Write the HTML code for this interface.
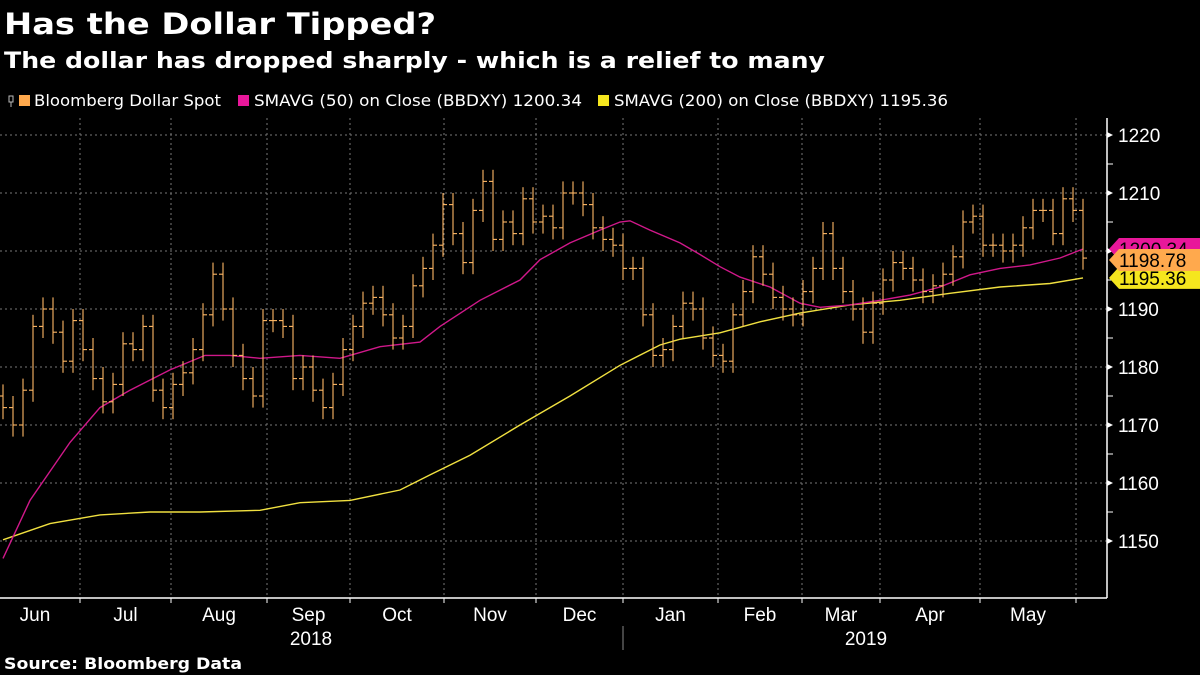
<!DOCTYPE html>
<html><head><meta charset="utf-8"><style>
html,body{margin:0;padding:0;background:#000;}
svg{display:block;font-family:"DejaVu Sans","Liberation Sans",sans-serif;}
</style></head><body>
<svg id="chart" width="1200" height="675" viewBox="0 0 1200 675" xmlns="http://www.w3.org/2000/svg">
<rect width="1200" height="675" fill="#000"/>
<text x="4" y="34" fill="#fff" font-weight="bold" font-size="29" textLength="432" lengthAdjust="spacingAndGlyphs">Has the Dollar Tipped?</text>
<text x="4" y="68" fill="#fff" font-weight="bold" font-size="22" textLength="821" lengthAdjust="spacingAndGlyphs">The dollar has dropped sharply - which is a relief to many</text>
<g font-size="16" fill="#fff">
  <g>
    <path d="M9 96v6h4v-6zM11 102v5" stroke="#bbb" fill="none" stroke-width="1"/>
    <rect x="19" y="95" width="11" height="11" fill="#ffa94d"/>
    <text x="34" y="106" textLength="187" lengthAdjust="spacingAndGlyphs">Bloomberg Dollar Spot</text>
  </g>
  <g>
    <rect x="238" y="95" width="11" height="11" fill="#e8179a"/>
    <text x="254" y="106" textLength="328" lengthAdjust="spacingAndGlyphs">SMAVG (50)  on Close (BBDXY) 1200.34</text>
  </g>
  <g>
    <rect x="598" y="95" width="11" height="11" fill="#f5e61e"/>
    <text x="614" y="106" textLength="334" lengthAdjust="spacingAndGlyphs">SMAVG (200)  on Close (BBDXY) 1195.36</text>
  </g>
</g>
<g id="grid"></g>
<g id="sma200"></g>
<g id="sma50"></g>
<g id="bars"></g>
<g id="yaxis"></g>
<g id="xaxis"></g>
<g id="tags"></g>
<text x="4" y="669" fill="#fff" font-weight="bold" font-size="16" textLength="238" lengthAdjust="spacingAndGlyphs">Source: Bloomberg Data</text>
</svg>
<script>
const closes = [1173,1170,1176,1187,1190,1186,1181,1188,1183,1178,1174,1177,1184,1183,1187,1176,1173,1177,1179,1183,1189,1196,1190,1182,1178,1175,1188,1188,1187,1178,1180,1176,1173,1177,1183,1187,1191,1192,1189,1185,1187,1194,1197,1201,1208,1203,1198,1207,1212,1202,1205,1203,1209,1205,1206,1204,1210,1210,1208,1204,1202,1201,1197,1197,1189,1182,1183,1187,1191,1190,1185,1182,1181,1189,1193,1199,1196,1192,1190,1189,1193,1197,1203,1197,1193,1190,1186,1191,1195,1198,1197,1195,1193,1194,1196,1199,1205,1206,1201,1201,1200,1201,1204,1207,1207,1203,1209,1207,1198.78];
const sma50Idx = [0,2.7,6.7,9.7,12.7,16.7,20.2,22.7,25.7,29.7,33.7,37.7,41.7,43.7,47.7,51.7,53.7,56.7,59.7,61.7,62.7,64.7,67.7,69.7,71.7,73.7,76.7,79.7,81.7,84.7,87.7,90.7,93.7,96.7,99.7,102.7,105.7,108];
const sma50Vals = [1147,1157,1167,1173,1176,1179.5,1182,1182,1181.5,1182,1181.5,1183.5,1184.3,1187,1191.5,1195,1198.5,1201.4,1203.6,1205,1205.2,1203.6,1201.4,1199.4,1197.3,1195.5,1193.8,1191,1190.3,1190.7,1191.5,1192.4,1193.8,1195.9,1197,1197.6,1198.8,1200.34];
const sma200Idx = [0,4.7,9.7,14.7,19.7,25.7,29.7,34.7,39.7,42.7,46.7,51.7,56.7,61.7,65.7,67.7,71.7,75.7,79.7,84.7,89.7,94.7,99.7,104.7,108];
const sma200Vals = [1150.2,1153,1154.5,1155,1155,1155.3,1156.6,1157,1158.8,1161.4,1164.8,1170,1175,1180.3,1183.8,1184.8,1185.9,1187.8,1189.3,1190.7,1191.5,1192.7,1193.8,1194.4,1195.36];
const yTicks = [1150,1160,1170,1180,1190,1200,1210,1220];
const monthLabels = ["Jun","Jul","Aug","Sep","Oct","Nov","Dec","Jan","Feb","Mar","Apr","May"];
const monthStartIdx = [-1.1,7.7,16.8,26.4,34.7,44.1,53.3,62,71.5,79.9,87.7,97.7,107.3];
const yearLabels = ["2018","2019"];
const lastValues = [1200.34,1198.78,1195.36];

const NS="http://www.w3.org/2000/svg";
const X0=3, DX=10, PL=0, PR=1107, PT=118, PB=598;
const xs=i=>X0+DX*i;
const ys=v=>193+(1210-v)*5.8;
function mk(tag,attrs,parent){const e=document.createElementNS(NS,tag);for(const k in attrs)e.setAttribute(k,attrs[k]);parent.appendChild(e);return e;}

const grid=document.getElementById('grid');
yTicks.forEach(v=>{
  const l=mk('line',{x1:PL,x2:PR,y1:ys(v),y2:ys(v),stroke:'#777','stroke-width':1,'stroke-dasharray':'2,3'},grid);
  
  
});
monthStartIdx.slice(1).forEach(m=>{
  const l=mk('line',{x1:xs(m),x2:xs(m),y1:PT,y2:PB,stroke:'#777','stroke-width':1,'stroke-dasharray':'2,3'},grid);
  
  
});

function drawLine(idx,vals,color,gid,name){
  const g=document.getElementById(gid);
  const d=idx.map((k,j)=>(j?'L':'M')+xs(k).toFixed(1)+' '+ys(vals[j]).toFixed(1)).join(' ');
  const p=mk('path',{d:d,fill:'none',stroke:color,'stroke-width':1.4},g);
  
  
}
drawLine(sma200Idx,sma200Vals,'#f0e040','sma200','sma200-line');
drawLine(sma50Idx,sma50Vals,'#d0188a','sma50','sma50-line');

const bars=document.getElementById('bars');
closes.forEach((c,i)=>{
  const o=i?closes[i-1]:c+2;
  const hi=Math.max(o,c)+2, lo=Math.min(o,c)-2;
  const x=xs(i);
  const g=mk('g',{},bars);
  
  
  mk('line',{x1:x,x2:x,y1:ys(hi),y2:ys(lo),stroke:'#ffb866','stroke-width':1.1},g);
  mk('line',{x1:x-4,x2:x,y1:ys(o),y2:ys(o),stroke:'#ffb866','stroke-width':1.1},g);
  mk('line',{x1:x,x2:x+4,y1:ys(c),y2:ys(c),stroke:'#ffb866','stroke-width':1.1},g);
});

const ya=document.getElementById('yaxis');
mk('line',{x1:PR,x2:PR,y1:PT,y2:PB,stroke:'#fff','stroke-width':1.5},ya);
yTicks.forEach(v=>{
  mk('path',{d:`M${PR} ${ys(v)-3}L${PR+6} ${ys(v)}L${PR} ${ys(v)+3}Z`,fill:'#fff'},ya);
  if(ys(v+5)>PT) mk('line',{x1:PR,x2:PR+6,y1:ys(v+5),y2:ys(v+5),stroke:'#fff','stroke-width':1},ya);
  const t=mk('text',{x:PR+11,y:ys(v)+7,fill:'#fff','font-size':19,'font-family':'Liberation Sans, sans-serif'},ya);
  t.textContent=v;
  
  
});

const xa=document.getElementById('xaxis');
mk('line',{x1:PL,x2:PR,y1:PB,y2:PB,stroke:'#fff','stroke-width':1.5},xa);
monthStartIdx.slice(1).forEach(m=>{mk('line',{x1:xs(m),x2:xs(m),y1:PB,y2:PB+5,stroke:'#fff','stroke-width':1},xa);});
monthLabels.forEach((lab,j)=>{
  const cx=(Math.max(xs(monthStartIdx[j]),0)+xs(monthStartIdx[j+1]))/2;
  const t=mk('text',{x:j===0?35:cx,y:621,fill:'#fff','font-size':19,'text-anchor':'middle','font-family':'Liberation Sans, sans-serif'},xa);
  t.textContent=lab;
  
  
});
const sep=xs(monthStartIdx[7]);
mk('line',{x1:sep,x2:sep,y1:626,y2:650,stroke:'#888','stroke-width':1},xa);
[[311,yearLabels[0]],[866,yearLabels[1]]].forEach(([x,lab])=>{
  const t=mk('text',{x:x,y:645,fill:'#fff','font-size':19,'text-anchor':'middle','font-family':'Liberation Sans, sans-serif'},xa);
  t.textContent=lab;
  
  
});

const tags=document.getElementById('tags');
const tagColors=['#e8179a','#ffa94d','#f5e61e'];
const tagY=[ys(lastValues[0]),ys(lastValues[0])+11,ys(lastValues[2])];
[0,2,1].forEach(k=>{
  const y=tagY[k];
  const g=mk('g',{},tags);
  
  
  mk('path',{d:`M${PR+2} ${y}L${PR+12} ${y-11}H1200V${y+11}H${PR+12}Z`,fill:tagColors[k]},g);
  const t=mk('text',{x:1119,y:y+7,fill:'#000','font-size':19,'font-family':'Liberation Sans, sans-serif'},g);
  t.textContent=lastValues[k].toFixed(2);
});
</script>
</body></html>
